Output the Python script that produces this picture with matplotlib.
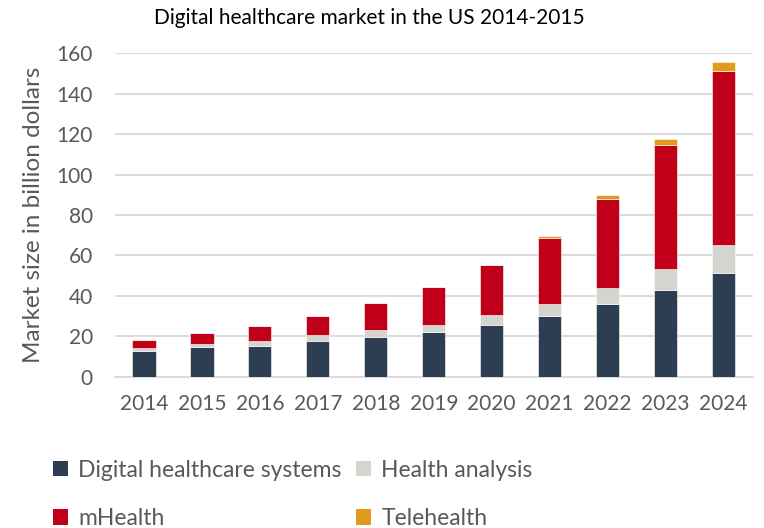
import matplotlib.pyplot as plt
import numpy as np
from matplotlib.patches import Patch

plt.rcParams['font.family'] = ['Lato', 'DejaVu Sans']

years = ["2014", "2015", "2016", "2017", "2018", "2019", "2020", "2021", "2022", "2023", "2024"]
systems = [12.7, 14.7, 15.3, 18.0, 19.6, 22.1, 25.5, 30.0, 36.1, 43.0, 51.6]
analysis = [1.8, 1.6, 2.7, 2.6, 3.8, 3.6, 5.3, 6.1, 7.9, 10.4, 13.8]
mhealth = [3.6, 5.6, 7.4, 9.7, 13.2, 18.5, 24.6, 32.6, 43.8, 61.3, 85.5]
telehealth = [0, 0, 0, 0, 0, 0, 0, 1.1, 2.1, 2.9, 4.6]

series = [
    ("Digital healthcare systems", systems, "#2e3e52"),
    ("Health analysis", analysis, "#d5d5d0"),
    ("mHealth", mhealth, "#c00018"),
    ("Telehealth", telehealth, "#e09a1e"),
]

txt = "#595959"

fig = plt.figure(figsize=(7.64, 5.28), dpi=100)
ax = fig.add_axes([0.1505, 0.286, 0.8345, 0.6136])

x = np.arange(len(years))
bottom = np.zeros(len(years))
for name, vals, col in series:
    ax.bar(x, vals, 0.4, bottom=bottom, color=col, edgecolor="white", linewidth=0.4, zorder=3)
    bottom += np.array(vals)

ax.set_xlim(-0.5, len(years) - 0.5)
ax.set_ylim(0, 160)
ax.set_yticks(range(0, 161, 20))
ax.set_xticks(x)
ax.set_xticklabels(years)
ax.grid(axis="y", color="#d9d9d9", linewidth=1.3, zorder=0)
for s in ["top", "right", "left"]:
    ax.spines[s].set_visible(False)
ax.spines["bottom"].set_color("#d9d9d9")
ax.spines["bottom"].set_linewidth(1.3)
ax.tick_params(length=0, labelsize=15, labelcolor=txt)
ax.tick_params(axis="x", pad=12)
ax.tick_params(axis="y", pad=16)

ax.set_ylabel("Market size in billion dollars", fontsize=17.5, color=txt)
ax.yaxis.set_label_coords(-0.112, 0.5)
fig.text(0.484, 0.966, "Digital healthcare market in the US 2014-2015", ha="center", va="center",
         fontsize=15, color="black")

# matplotlib fills legend by column -> reorder so rows read like the original
h = {n: Patch(facecolor=c, label=n) for n, v, c in series}
order = ["Digital healthcare systems", "mHealth", "Health analysis", "Telehealth"]
fig.legend(handles=[h[n] for n in order], ncol=2, loc="upper left", bbox_to_anchor=(0.057, 0.147),
           frameon=False, fontsize=16.5, labelcolor=txt, handlelength=0.65, handleheight=0.65,
           handletextpad=0.45, columnspacing=0.65, labelspacing=1.2, borderaxespad=0)

fig.savefig("out.png", dpi=100)
